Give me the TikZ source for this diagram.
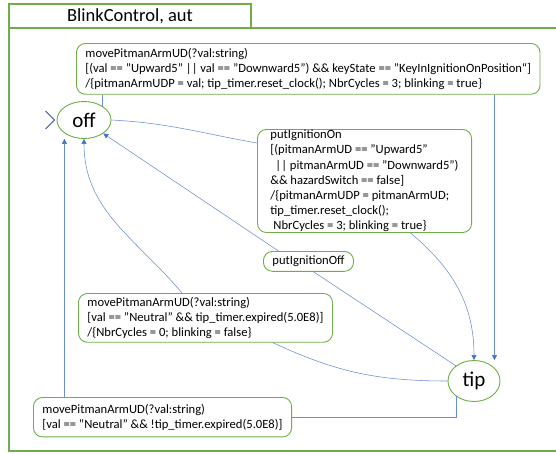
\documentclass[tikz,border=0pt]{standalone}
\usepackage{fontspec}
\setmainfont{Carlito}
\usetikzlibrary{arrows.meta,positioning,shapes.geometric}
\definecolor{umlgreen}{HTML}{70AD47}
\definecolor{umlblue}{HTML}{4472C4}
\definecolor{umlnavy}{HTML}{2F5597}
\tikzstyle{frame} = [draw=umlgreen,line width=1.3pt]
\tikzstyle{tabbox} = [frame,minimum width=242pt,minimum height=24pt,inner sep=0pt,font=\fontsize{18.5}{20}\selectfont]
\tikzstyle{loc} = [draw=umlgreen,line width=0.9pt,ellipse,fill=white,inner sep=0pt,font=\fontsize{21}{22}\selectfont]
\tikzstyle{guard} = [draw=umlgreen,line width=0.9pt,rounded corners=9pt,fill=white,anchor=north west,align=left,inner xsep=9pt,inner ysep=4pt]
\tikzstyle{edge} = [draw=umlblue!80,line width=0.55pt]
\tikzstyle{trans} = [edge,-{Triangle[length=5pt,width=5pt,fill=umlblue,color=umlblue]}]
\tikzstyle{entry} = [draw=umlnavy,line width=0.9pt]

\begin{document}
\begin{tikzpicture}[x=1pt,y=1pt,font=\fontsize{12.6}{15.2}\selectfont]
   \useasboundingbox (0,0) rectangle (556,-453);
   \draw[frame] (556,-28) -- (9,-28) -- (9,-451) -- (556,-451);
   \node[tabbox] (title) at (130,-16) {BlinkControl, aut};

   \node[loc,minimum width=54pt,minimum height=37pt] (off) at (84,-120) {off};
   \node[loc,minimum width=52pt,minimum height=41pt] (tip) at (474,-381) {tip};

   \node[guard,inner ysep=4.5pt] (up) at (76,-43) {movePitmanArmUD(?val:string)\\{}[(val == "Upward5" || val == "Downward5") \&\& keyState == "KeyInIgnitionOnPosition“]\\/\{pitmanArmUDP = val; tip\_timer.reset\_clock(); NbrCycles = 3; blinking = true\}};
   \node[guard,inner ysep=0.5pt,inner xsep=13pt] (ignon) at (257,-129) {putIgnitionOn\\{}[(pitmanArmUD == "Upward5"\\\hspace*{5pt}|| pitmanArmUD == "Downward5")\\\&\& hazardSwitch == false]\\/\{pitmanArmUDP = pitmanArmUD;\\tip\_timer.reset\_clock();\\\hspace*{3pt}NbrCycles = 3; blinking = true\}};
   \node[guard,inner ysep=4.5pt] (ignoff) at (263,-251) {putIgnitionOff};
   \node[guard,inner ysep=3.5pt] (expired) at (78,-293) {movePitmanArmUD(?val:string)\\{}[val == "Neutral" \&\& tip\_timer.expired(5.0E8)]\\/\{NbrCycles = 0; blinking = false\}};
   \node[guard,inner ysep=6.5pt] (neutral) at (33,-397) {movePitmanArmUD(?val:string)\\{}[val == "Neutral" \&\& !tip\_timer.expired(5.0E8)]};

   \draw[entry] ([shift={(-11pt,9pt)}]off.west) -- ([xshift=-2pt]off.west) -- ([shift={(-11pt,-9pt)}]off.west);

   \path[edge] (up.south -| off.37) -- (off.37);
   \path[trans] (up.south -| tip.33) -- (tip.north -| tip.33);
   \path[edge] (off.east) to[out=-3,in=170] ([yshift=-14pt]ignon.north west);
   \path[trans] ([xshift=46pt]ignon.south) to[out=-40,in=90] (tip.north);
   \path[edge] (tip.140) -- ([xshift=5pt]ignoff.south);
   \path[trans] ([xshift=-30pt]ignoff.north) -- (off.-35);
   \path[edge] (tip.west) to[out=180,in=-25] ([xshift=195pt]expired.south west);
   \path[trans] ([xshift=104pt]expired.north west) to[out=130,in=-90] (off.south);
   \path[edge] (tip.221) |- (neutral.east);
   \path[trans] (neutral.north -| off.214) -- (off.south -| off.214);
\end{tikzpicture}
\end{document}
